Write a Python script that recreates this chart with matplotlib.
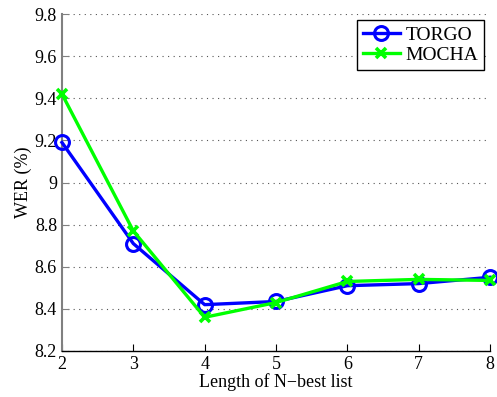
import matplotlib
matplotlib.use('Agg')
import matplotlib.pyplot as plt

plt.rcParams['font.family'] = ['Liberation Serif', 'DejaVu Serif']

n_best = [2, 3, 4, 5, 6, 7, 8]
torgo = [9.19, 8.71, 8.42, 8.435, 8.51, 8.52, 8.55]
mocha = [9.42, 8.77, 8.36, 8.43, 8.53, 8.54, 8.535]

fig = plt.figure(figsize=(4.97, 3.97), dpi=100)
ax = fig.add_axes([0.1247, 0.1159, 0.8613, 0.8488])

ax.plot(n_best, torgo, color='#0000ff', lw=2.4, marker='o', ms=10,
        mfc='none', mew=2.2, label='TORGO', clip_on=False, zorder=3)
ax.plot(n_best, mocha, color='#00ff00', lw=2.4, marker='x', ms=7,
        mew=2.6, label='MOCHA', clip_on=False, zorder=4)

ax.set_xlim(2, 8)
ax.set_ylim(8.2, 9.8)
ax.set_xticks(n_best)
ax.set_yticks([8.2, 8.4, 8.6, 8.8, 9.0, 9.2, 9.4, 9.6, 9.8])
ax.set_yticklabels(['8.2', '8.4', '8.6', '8.8', '9', '9.2', '9.4', '9.6', '9.8'])
ax.grid(True, axis='y', linestyle=(0, (1, 4)), color='#555555', lw=0.8)
ax.set_axisbelow(True)

for s in ['top', 'right']:
    ax.spines[s].set_visible(False)
ax.spines['left'].set_color('#808080')
ax.spines['left'].set_linewidth(1.5)
ax.spines['bottom'].set_linewidth(1.0)
ax.tick_params(direction='in', labelsize=13, length=5)
ax.tick_params(axis='y', colors='#808080', labelcolor='black')

ax.set_xlabel('Length of N\u2212best list', fontsize=13, labelpad=0)
ax.set_ylabel('WER (%)', fontsize=13, labelpad=2)

leg = ax.legend(loc='upper right', fontsize=14, fancybox=False, framealpha=1,
                edgecolor='black', handlelength=1.9, borderpad=0.3,
                labelspacing=0.15, handletextpad=0.3, borderaxespad=0,
                bbox_to_anchor=(0.986, 0.982))
leg.get_frame().set_linewidth(1.0)

fig.savefig('out.png', dpi=100)
